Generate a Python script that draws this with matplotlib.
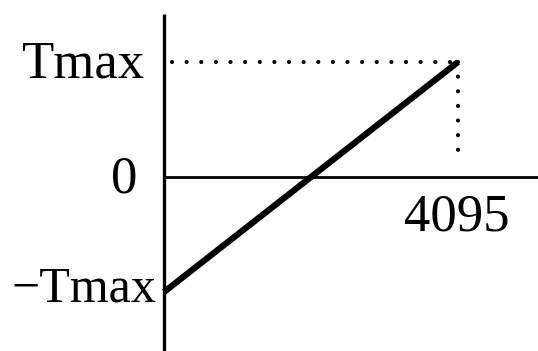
import matplotlib.pyplot as plt

# line data: code 0..4095 maps to -Tmax..Tmax
codes = [0, 4095]
torque = [-1, 1]
tick_labels = ["-Tmax", "0", "Tmax"]
x_label = "4095"

fig = plt.figure(figsize=(5.38, 3.51), dpi=100)
ax = fig.add_axes([0, 0, 1, 1])
ax.set_xlim(-2284, 5209)
ax.set_ylim(-1.513, 1.539)
ax.axis("off")

# axes drawn by hand
ax.plot([0, 0], [-1.52, 1.417], color="black", lw=2.4, solid_capstyle="butt")
ax.plot([0, 5300], [0, 0], color="black", lw=2.0)

# dotted guides to the top end
dots = (0, (0.01, 3.5))
ax.plot([110, codes[1]], [torque[1], torque[1]], color="black", lw=3.0,
        linestyle=dots, dash_capstyle="round")
ax.plot([codes[1], codes[1]], [torque[1], 0.11], color="black", lw=3.0,
        linestyle=dots, dash_capstyle="round")

# main characteristic
ax.plot(codes, torque, color="black", lw=4.5, solid_capstyle="butt")

font = dict(family="Liberation Serif", fontsize=38, color="black")
ax.text(-270, 0.98, tick_labels[2], ha="right", va="center", **font)
ax.text(-370, -0.02, tick_labels[1], ha="right", va="center", **font)
ax.text(-100, -0.98, tick_labels[0].replace("-", "\u2212"), ha="right", va="center",
        family="Liberation Serif", fontsize=36, color="black")
ax.text(codes[1] - 20, -0.14, x_label, ha="center", va="top", **font)

fig.savefig("out.png", dpi=100)
